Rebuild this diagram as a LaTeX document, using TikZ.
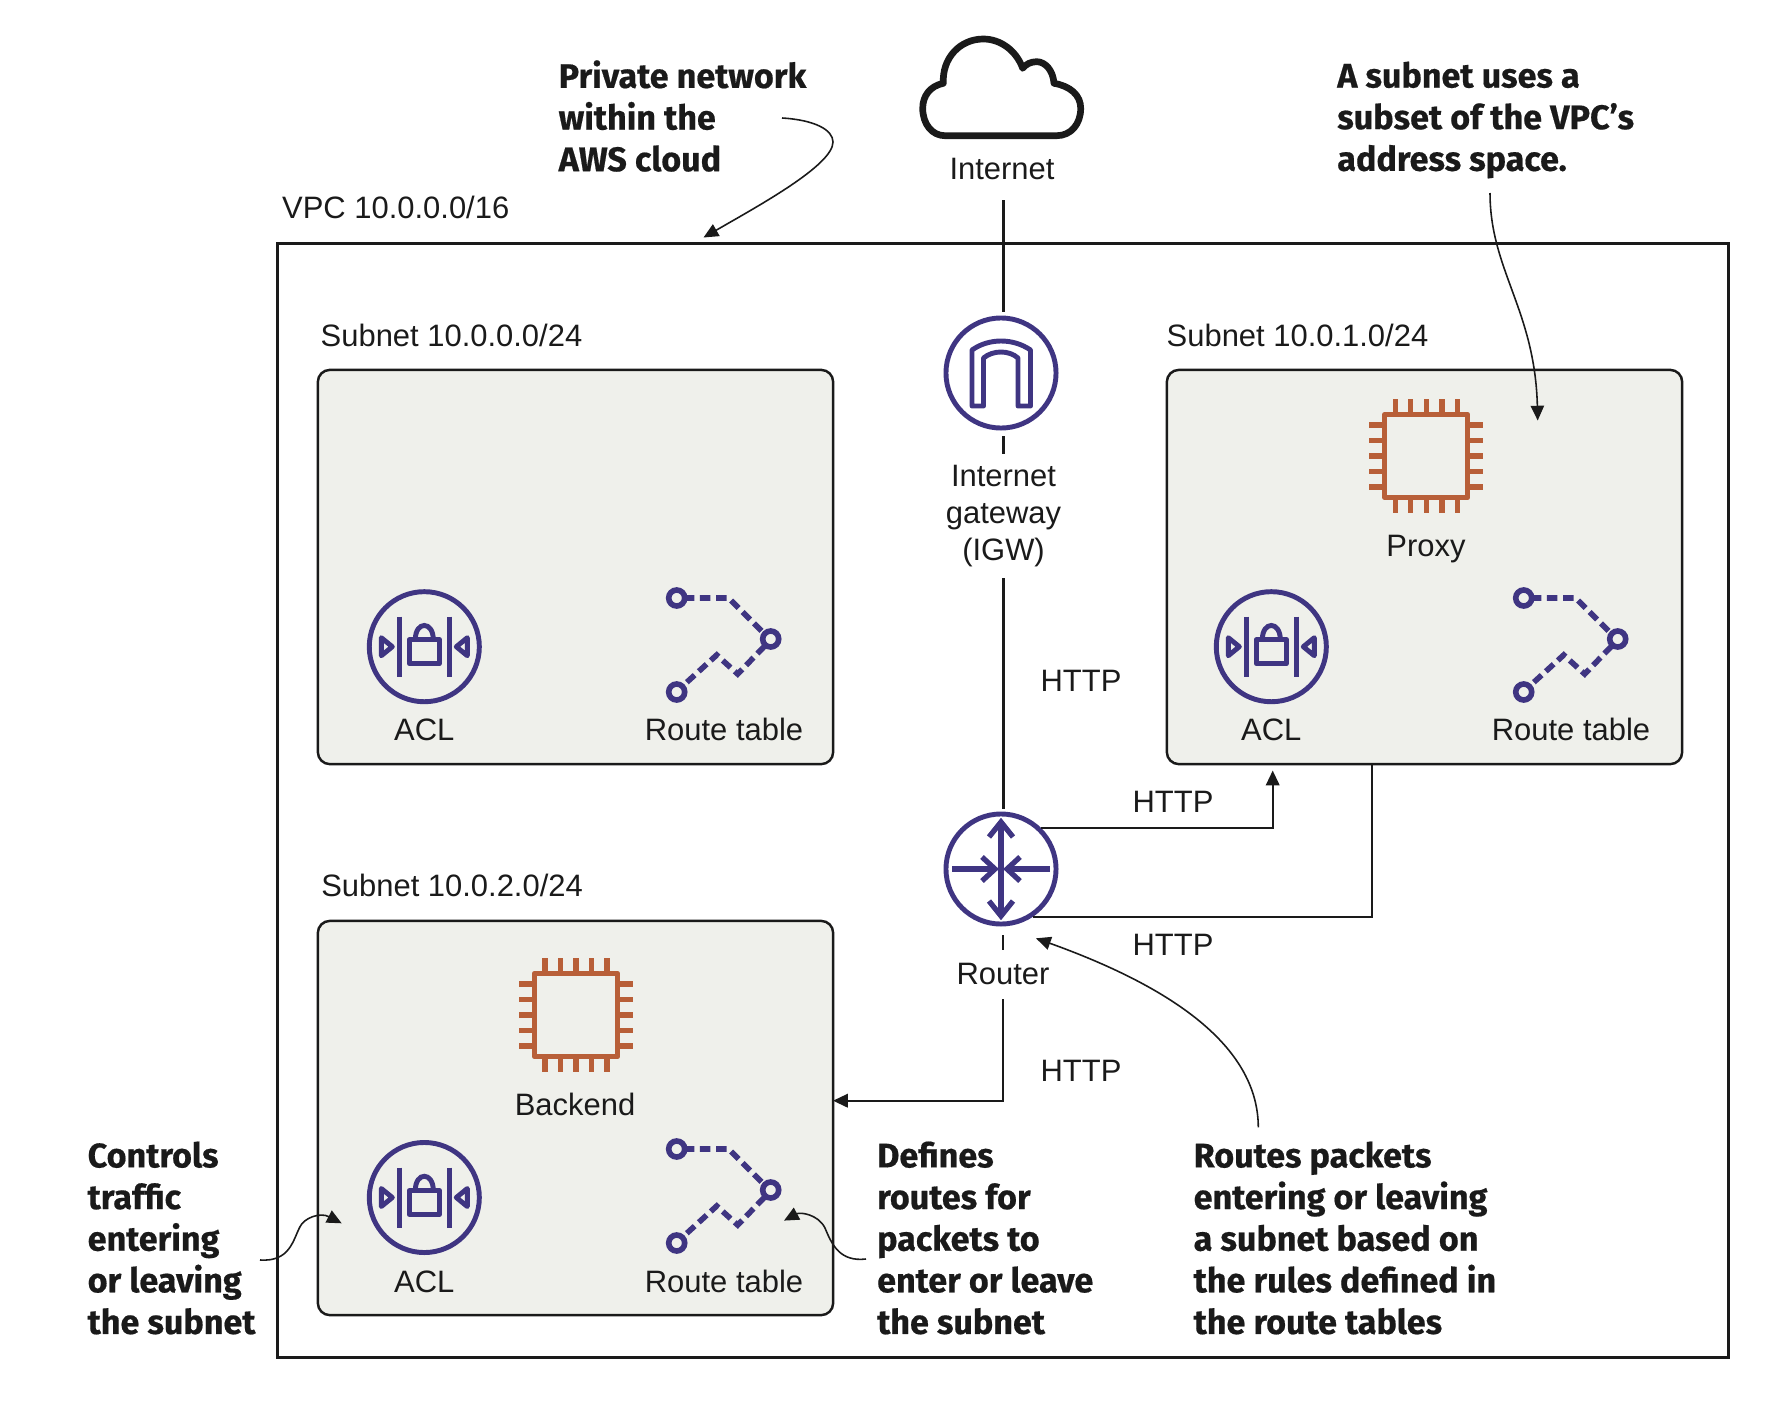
\documentclass[tikz,border=0pt]{standalone}
\usepackage{fontspec}
\setmainfont{Liberation Sans}
\newfontfamily\notefamily[FakeStretch=1.0,FakeBold=0.5]{Fira Sans}
\usetikzlibrary{arrows.meta}
\definecolor{iconpurple}{HTML}{3F3582}
\definecolor{chiporange}{HTML}{B85F38}
\definecolor{subnetgrey}{HTML}{EFF0EB}
\definecolor{inkblack}{HTML}{1A1A1A}
\tikzset{
  lbl/.style={font=\fontsize{8.8}{10.5}\selectfont, text=inkblack, inner sep=4pt, align=center},
  note/.style={font=\notefamily\bfseries\fontsize{9.7}{11.84}\selectfont, text=inkblack, inner sep=0pt, align=left, anchor=west},
  subnetbox/.style={draw=inkblack, fill=subnetgrey, line width=.7pt, rounded corners=3.4pt, minimum width=5.15cm, minimum height=3.94cm},
  iconcircle/.style={draw=iconpurple, line width=1.4pt, circle, minimum size=1.1cm, inner sep=0pt},
  conn/.style={draw=inkblack, line width=.65pt},
  callout/.style={draw=inkblack, line width=.45pt},
  pics/aclicon/.style={code={
    \draw[iconpurple, line width=1.5pt] (-25,-30) -- (-25,30) (25,-30) -- (25,30);
    \draw[iconpurple, line width=1.4pt, line join=round] (-15,-7) rectangle (15,17);
    \draw[iconpurple, line width=1.4pt] (-9,-7) .. controls (-9,-26) and (9,-26) .. (9,-7);
    \draw[iconpurple, line width=1.4pt, line join=round] (-43,-9) -- (-32,0) -- (-43,9) -- cycle;
    \draw[iconpurple, line width=1.4pt, line join=round] (43,-9) -- (32,0) -- (43,9) -- cycle;
  }},
  pics/routeicon/.style={code={
    \draw[iconpurple, line width=1.6pt, dash pattern=on 3pt off 1.6pt] (7,0) -- (52,0) -- (88,36);
    \draw[iconpurple, line width=1.6pt, dash pattern=on 3pt off 1.6pt] (88,48) -- (61,76) -- (40,57) -- (6,88);
    \draw[iconpurple, line width=1.6pt] (0,0) circle[radius=8];
    \draw[iconpurple, line width=1.6pt] (94,41) circle[radius=8];
    \draw[iconpurple, line width=1.6pt] (0,94) circle[radius=8];
  }},
  pics/chipicon/.style={code={
    \draw[chiporange, line width=1.5pt, line join=round] (-41.5,-41.5) rectangle (41.5,41.5);
    \foreach \pinpos in {-31,-15.7,0,15.7,31} {
      \draw[chiporange, line width=1.5pt] (\pinpos,-42) -- (\pinpos,-57);
      \draw[chiporange, line width=1.5pt] (\pinpos,42) -- (\pinpos,57);
      \draw[chiporange, line width=1.5pt] (-42,\pinpos) -- (-57,\pinpos);
      \draw[chiporange, line width=1.5pt] (42,\pinpos) -- (57,\pinpos);
    }
  }},
  pics/gateicon/.style={code={
    \draw[iconpurple, line width=1.4pt, line join=round] (-29,33) -- (-29,-23) .. controls (-12,-35) and (12,-35) .. (29.5,-23) -- (29.5,33) -- (17,33) -- (17,-15) .. controls (8,-23) and (-8,-23) .. (-17.5,-15) -- (-17.5,33) -- cycle;
  }},
  pics/routericon/.style={code={
    \begin{scope}[iconpurple, line width=1.5pt]
      \draw (0,-46) -- (0,46);
      \draw (-49,0) -- (-7,0);
      \draw (49,0) -- (7,0);
      \draw (-12,-32) -- (0,-47) -- (12,-32);
      \draw (-12,32) -- (0,47) -- (12,32);
      \draw (-19,-12) -- (-6,0) -- (-19,12);
      \draw (19,-12) -- (6,0) -- (19,12);
    \end{scope}
  }},
}
\begin{document}
\begin{tikzpicture}[x=0.01cm, y=-0.01cm, >={Triangle[length=4.2pt,width=3.8pt]}]
\useasboundingbox (0,0) rectangle (1782,1412);

% vpc and subnets
\node[draw=inkblack, line width=.7pt, minimum width=14.5cm, minimum height=11.13cm] (vpc) at (1003,800.5) {};
\node[lbl, inner sep=0pt, anchor=base west] (vpclabel) at (281.5,218) {VPC 10.0.0.0/16};
\node[subnetbox] (subneta) at (575.5,567) {};
\node[subnetbox] (subnetb) at (1424.5,567) {};
\node[subnetbox] (subnetc) at (575.5,1118) {};
\node[lbl, inner sep=0pt, anchor=base west] (subnetalabel) at (320,346.6) {Subnet 10.0.0.0/24};
\node[lbl, inner sep=0pt, anchor=base west] (subnetblabel) at (1166,346.6) {Subnet 10.0.1.0/24};
\node[lbl, inner sep=0pt, anchor=base west] (subnetclabel) at (320.6,896) {Subnet 10.0.2.0/24};

% internet
\draw[inkblack, line width=1.9pt, line join=round] (945,135.7) -- (1056.7,135.7) .. controls (1071,135.7) and (1080.7,124) .. (1080.7,108.3) .. controls (1080.7,95) and (1070,86) .. (1054,83.3) .. controls (1053,70) and (1045,61.7) .. (1036.7,61.7) .. controls (1031,61.7) and (1026,64) .. (1022.7,68.3) .. controls (1016,50) and (1000,39) .. (983.3,39) .. controls (960,39) and (942,58) .. (943.3,83.3) .. controls (930,86) and (922.7,96) .. (922.7,108.3) .. controls (922.7,124) and (932,135.7) .. (945,135.7) -- cycle;
\node[lbl, inner ysep=5.7pt, anchor=base] (internet) at (1002,179) {Internet};

% gateway and router
\node[iconcircle] (igw) at (1001,373) {};
\pic at (igw) {gateicon};
\node[lbl, inner ysep=3pt] (igwlabel) at (1003.5,516) {Internet\\gateway\\(IGW)};
\node[iconcircle] (router) at (1001,869) {};
\pic at (router) {routericon};
\node[lbl, anchor=base] (routerlabel) at (1003,984) {Router};

% icons in the subnets
\node[iconcircle] (acla) at (424.3,646.7) {};
\pic at (acla) {aclicon};
\node[iconcircle] (aclb) at (1271.3,646.7) {};
\pic at (aclb) {aclicon};
\node[iconcircle] (aclc) at (424.3,1197.5) {};
\pic at (aclc) {aclicon};
\pic at (676.7,598) {routeicon};
\pic at (1523.7,598) {routeicon};
\pic at (676.7,1149) {routeicon};
\node[lbl, anchor=base] (aclalabel) at (424.3,740.7) {ACL};
\node[lbl, anchor=base] (aclblabel) at (1271.3,740.7) {ACL};
\node[lbl, anchor=base] (aclclabel) at (424.3,1292.7) {ACL};
\node[lbl, anchor=base] (routea) at (724,740.7) {Route table};
\node[lbl, anchor=base] (routeb) at (1571,740.7) {Route table};
\node[lbl, anchor=base] (routec) at (724,1292.7) {Route table};
\node[minimum size=1.14cm, inner sep=0pt] (proxychip) at (1426.2,456) {};
\pic at (proxychip) {chipicon};
\node[lbl, anchor=base] (proxy) at (1426,556) {Proxy};
\node[minimum size=1.14cm, inner sep=0pt] (backendchip) at (576,1015) {};
\pic at (backendchip) {chipicon};
\node[lbl, anchor=base] (backend) at (575,1115) {Backend};

% connectors
\coordinate (aclentry) at (1272.7,770.5);
\coordinate (proxyexit) at (1372.3,764);
\coordinate (backendentry) at (833,1100.7);
\draw[conn] (igwlabel.north |- internet.south) -- ([yshift=1pt]igwlabel.north |- igw.north);
\draw[conn] ([yshift=-1.7pt]igw.south -| igwlabel.north) -- (igwlabel.north);
\draw[conn] (igwlabel.south) -- ([yshift=.6pt]igwlabel.south |- router.north);
\draw[conn, ->] (router.46) -| (aclentry);
\draw[conn] (proxyexit) |- (router.-56);
\draw[conn] ([yshift=-2.5pt]router.south -| routerlabel.north) -- ([yshift=-.6pt]routerlabel.north);
\draw[conn, ->] (routerlabel.south) |- (backendentry);
\node[lbl, anchor=base] (httpa) at (1081,691) {HTTP};
\node[lbl, anchor=base] (httpb) at (1173,812.7) {HTTP};
\node[lbl, anchor=base] (httpc) at (1173,955) {HTTP};
\node[lbl, anchor=base] (httpd) at (1081,1081.7) {HTTP};

% notes
\node[note] (notevpc) at (558,116) {Private network\\within the\\AWS cloud};
\node[note] (notesubset) at (1336.6,120) {A subnet uses a\\subset of the VPC’s\\address space.};
\node[note] (noteacl) at (87,1238) {Controls\\traffic\\entering\\or leaving\\the subnet};
\node[note] (noteroute) at (876.5,1238) {Defines\\routes for\\packets to\\enter or leave\\the subnet};
\node[note] (notepackets) at (1193,1238) {Routes packets\\entering or leaving\\a subnet based on\\the rules defined in\\the route tables};

\coordinate (vpcstart) at (782,118);
\coordinate (vpctip) at (703.5,237.5);
\coordinate (subsetstart) at (1490,193);
\coordinate (subsettip) at (1537.7,420.5);
\coordinate (packetstart) at (1258.3,1127.3);
\coordinate (packettip) at (1036,938.3);
\coordinate (aclstart) at (260,1260);
\coordinate (acltip) at (341.7,1223.3);
\coordinate (routestart) at (866,1259);
\coordinate (routetip) at (784,1220.6);
\draw[callout, ->] (vpcstart) .. controls (815,120) and (833,130) .. (833,142) .. controls (833,165) and (760,205) .. (vpctip);
\draw[callout, ->] (subsetstart) .. controls (1490,270) and (1535,310) .. (subsettip);
\draw[callout, ->] (packetstart) .. controls (1258,1050) and (1180,990) .. (packettip);
\draw[callout, ->] (aclstart) .. controls (290,1262) and (293,1240) .. (300,1226.7) .. controls (304,1218) and (320,1212) .. (acltip);
\draw[callout, ->] (routestart) .. controls (840,1262) and (832,1245) .. (825,1228) .. controls (818,1214) and (800,1212) .. (routetip);
\end{tikzpicture}
\end{document}
